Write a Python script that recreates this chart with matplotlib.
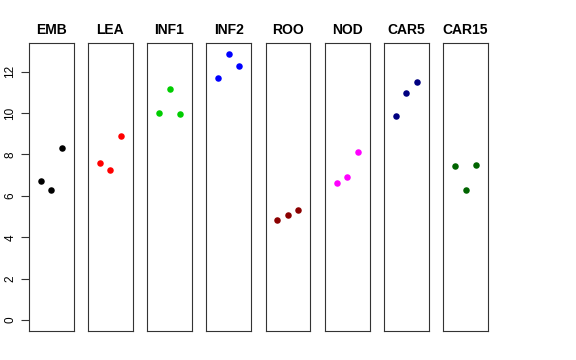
import matplotlib
matplotlib.use('Agg')
import matplotlib.pyplot as plt

plt.rcParams['font.family'] = ['Liberation Sans', 'DejaVu Sans']

# Datos
grupos = ['EMB', 'LEA', 'INF1', 'INF2', 'ROO', 'NOD', 'CAR5', 'CAR15']
colores = ['black', 'red', '#00CD00', 'blue', '#8B0000', 'magenta', '#000080', '#006400']
valores = [
    [6.70, 6.28, 8.33],
    [7.59, 7.23, 8.88],
    [10.00, 11.15, 9.94],
    [11.71, 12.87, 12.28],
    [4.83, 5.07, 5.30],
    [6.62, 6.90, 8.10],
    [9.86, 10.96, 11.49],
    [7.46, 6.30, 7.49],
]
replicas = [1, 2, 3]
yticks = [0, 2, 4, 6, 8, 10, 12]

W, H = 576, 360
fig = plt.figure(figsize=(W / 100, H / 100), dpi=100)

izq0 = 28.7
paso = 59.2
ancho = 44.8
arriba = 43.3
abajo = 331.0

for i, (g, c, v) in enumerate(zip(grupos, colores, valores)):
    x0 = izq0 + i * paso
    ax = fig.add_axes([x0 / W, (H - abajo) / H, ancho / W, (abajo - arriba) / H])
    ax.scatter(replicas, v, color=c, s=22, zorder=3, linewidths=0)
    ax.set_xlim(-0.12, 4.12)
    ax.set_ylim(-0.53, 13.37)
    ax.set_xticks([])
    ax.set_title(g, fontsize=10, fontweight='bold', pad=7)
    for s in ax.spines.values():
        s.set_color('#333333')
        s.set_linewidth(0.8)
    if i == 0:
        ax.set_yticks(yticks)
        ax.set_yticklabels([str(t) for t in yticks], rotation=90, va='center', fontsize=8.5)
        ax.tick_params(axis='y', length=6, width=0.8, pad=3, colors='#333333')
        for lab in ax.get_yticklabels():
            lab.set_color('black')
    else:
        ax.set_yticks([])

fig.savefig('out.png', dpi=100, facecolor='white')
